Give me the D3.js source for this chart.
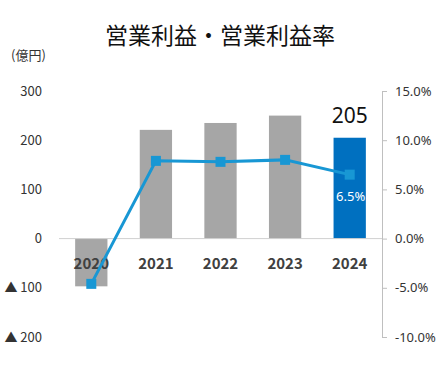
<!DOCTYPE html>
<html>
<head>
<meta charset="utf-8">
<script src="https://cdn.jsdelivr.net/npm/d3@7"></script>
<style>
  body { margin: 0; background: #fff; }
  svg { display: block; font-family: "Noto Sans CJK JP", "Noto Sans", sans-serif; }
</style>
</head>
<body>
<svg id="chart"></svg>
<script>
const years = ["2020", "2021", "2022", "2023", "2024"];
const profit = [-97, 221, 235, 250, 205];      // 億円
const margin = [-4.6, 7.9, 7.8, 8.0, 6.5];     // %
const leftTicks = [300, 200, 100, 0, -100, -200];
const rightTicks = [15, 10, 5, 0, -5, -10];

const width = 440;
const height = 378;

const svg = d3.select("#chart")
    .attr("width", width)
    .attr("height", height);

// scales
const x = d3.scaleBand()
    .domain(years)
    .range([59, 382])
    .paddingInner(0.5)
    .paddingOuter(0.25);

const y = d3.scaleLinear()
    .domain([-200, 300])
    .range([337, 91]);

const y2 = d3.scaleLinear()
    .domain([-10, 15])
    .range([337, 91]);

// title
svg.append("text")
    .attr("x", 220)
    .attr("y", 44)
    .attr("text-anchor", "middle")
    .attr("font-size", 23)
    .attr("fill", "#111")
    .text("営業利益・営業利益率");

svg.append("text")
    .attr("x", 11)
    .attr("y", 60)
    .attr("font-size", 13)
    .attr("fill", "#333")
    .text("(億円)");

// left axis labels (negatives shown with ▲)
svg.append("g")
    .selectAll("text")
    .data(leftTicks)
    .join("text")
    .attr("x", 42)
    .attr("y", d => y(d))
    .attr("dy", "0.35em")
    .attr("text-anchor", "end")
    .attr("font-size", 13)
    .attr("fill", "#333")
    .text(d => d < 0 ? "▲ " + Math.abs(d) : d);

// bars
svg.append("g")
    .selectAll("rect")
    .data(profit)
    .join("rect")
    .attr("x", (d, i) => x(years[i]))
    .attr("y", d => y(Math.max(0, d)))
    .attr("width", x.bandwidth())
    .attr("height", d => Math.abs(y(d) - y(0)))
    .attr("fill", (d, i) => i === years.length - 1 ? "#0070c0" : "#a6a6a6");

// zero line
svg.append("line")
    .attr("x1", 59)
    .attr("x2", 382)
    .attr("y1", y(0))
    .attr("y2", y(0))
    .attr("stroke", "#d0d0d0")
    .attr("stroke-width", 1);

// right axis
const rightAxis = d3.axisRight(y2)
    .tickValues(rightTicks)
    .tickSize(5)
    .tickPadding(8)
    .tickFormat(d => d.toFixed(1) + "%");

const ra = svg.append("g")
    .attr("transform", "translate(382,0)")
    .call(rightAxis);
ra.select(".domain").attr("stroke", "#bfbfbf");
ra.selectAll(".tick line").attr("stroke", "#bfbfbf");
ra.selectAll(".tick text")
    .attr("font-size", 13)
    .attr("fill", "#333")
    .attr("font-family", "'Noto Sans', sans-serif");

// category labels
svg.append("g")
    .selectAll("text")
    .data(years)
    .join("text")
    .attr("x", d => x(d) + x.bandwidth() / 2)
    .attr("y", 264)
    .attr("dy", "0.35em")
    .attr("text-anchor", "middle")
    .attr("font-size", 15)
    .attr("font-weight", "bold")
    .attr("fill", "#404040")
    .text(d => d);

// margin line
const line = d3.line()
    .x((d, i) => x(years[i]) + x.bandwidth() / 2)
    .y(d => y2(d));

svg.append("path")
    .datum(margin)
    .attr("d", line)
    .attr("fill", "none")
    .attr("stroke", "#1897d4")
    .attr("stroke-width", 3);

svg.append("g")
    .selectAll("rect")
    .data(margin)
    .join("rect")
    .attr("x", (d, i) => x(years[i]) + x.bandwidth() / 2 - 5)
    .attr("y", d => y2(d) - 5)
    .attr("width", 10)
    .attr("height", 10)
    .attr("fill", "#1897d4");

// labels for latest year
const last = years.length - 1;
svg.append("text")
    .attr("x", x(years[last]) + x.bandwidth() / 2)
    .attr("y", y(profit[last]) - 15)
    .attr("text-anchor", "middle")
    .attr("font-size", 21)
    .attr("fill", "#111")
    .attr("font-family", "'Noto Sans', sans-serif")
    .text(profit[last]);

svg.append("text")
    .attr("x", x(years[last]) + x.bandwidth() / 2 + 1)
    .attr("y", y2(margin[last]) + 22)
    .attr("dy", "0.35em")
    .attr("text-anchor", "middle")
    .attr("font-size", 13)
    .attr("fill", "#fff")
    .attr("font-family", "'Noto Sans', sans-serif")
    .text(margin[last].toFixed(1) + "%");
</script>
</body>
</html>
